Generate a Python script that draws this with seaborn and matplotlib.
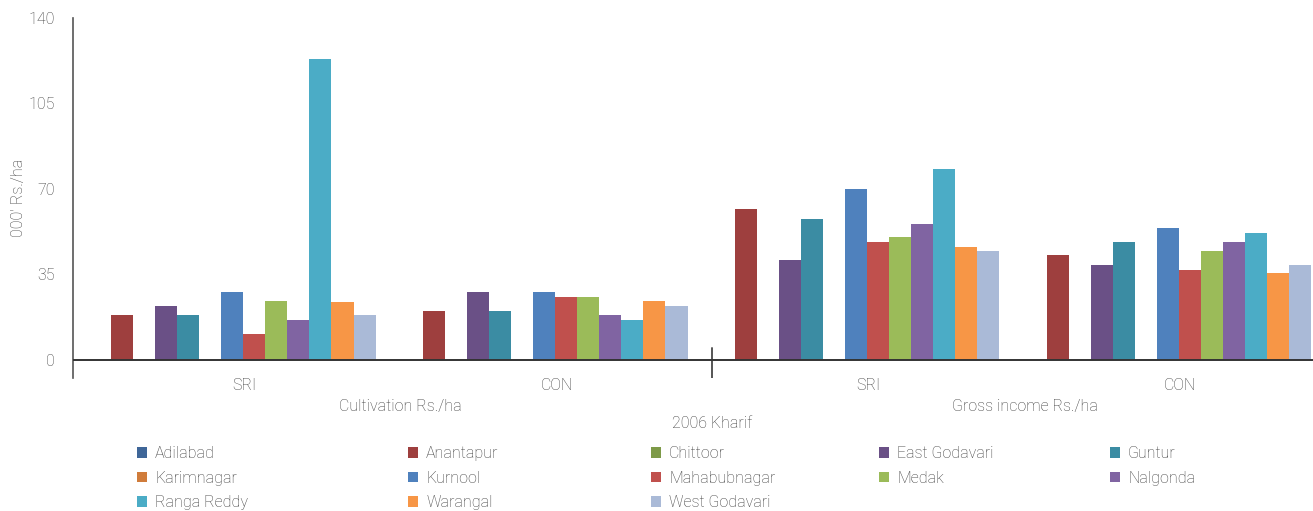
import numpy as np
import pandas as pd
import matplotlib
matplotlib.use("Agg")
import matplotlib.pyplot as plt
import seaborn as sns
from matplotlib.patches import Patch

# Données (000' Rs./ha)
districts = ["Adilabad", "Anantapur", "Chittoor", "East Godavari", "Guntur",
             "Karimnagar", "Kurnool", "Mahabubnagar", "Medak", "Nalgonda",
             "Ranga Reddy", "Warangal", "West Godavari"]
groups = ["SRI_cult", "CON_cult", "SRI_gross", "CON_gross"]
group_labels = ["SRI", "CON", "SRI", "CON"]
section_labels = ["Cultivation Rs./ha", "Gross income Rs./ha"]

nan = np.nan
cult_sri = [nan, 18.4, nan, 22.1, 18.4, nan, 27.8, 10.6, 24.2, 16.4, 123.2, 23.7, 18.4]
cult_con = [nan, 20.1, nan, 27.8, 20.1, nan, 27.8, 25.8, 25.8, 18.4, 16.4, 24.2, 22.1]
gross_sri = [nan, 61.6, nan, 41.1, 57.5, nan, 69.8, 48.3, 50.4, 55.5, 78.0, 46.3, 44.6]
gross_con = [nan, 42.8, nan, 38.7, 48.3, nan, 54.0, 37.0, 44.6, 48.3, 52.0, 35.4, 38.7]

colors = ["#3F6698", "#9E3F3E", "#7D9A48", "#6A5086", "#3B8CA3",
          "#D07C3B", "#4F81BD", "#C0504D", "#9BBB59", "#8064A2",
          "#4BACC6", "#F79646", "#AABAD7"]

df = pd.DataFrame({
    "group": np.repeat(groups, len(districts)),
    "district": districts * len(groups),
    "value": cult_sri + cult_con + gross_sri + gross_con,
})

text_col = "#3c3c3c"
axis_col = "#555555"
fs = 11.5

sns.set_style("white")
plt.rcParams["font.family"] = ["Roboto", "DejaVu Sans"]
plt.rcParams["font.weight"] = "light"
plt.rcParams["axes.labelweight"] = "light"

fig = plt.figure(figsize=(13.13, 5.11), dpi=100)
ax = fig.add_axes([73 / 1313, 1 - 378 / 511, 1240 / 1313, 360 / 511])

sns.barplot(data=df, x="group", y="value", hue="district", order=groups,
            hue_order=districts, palette=colors, saturation=1, width=0.92,
            gap=0, errorbar=None, legend=False, linewidth=0, ax=ax)

ax.set_xlim(-0.51, 3.465)
ax.set_ylim(-7.4, 140)
ax.set_yticks([0, 35, 70, 105, 140])
ax.set_xticks([k + 0.04 for k in range(4)])
ax.set_xticklabels(group_labels)
ax.tick_params(axis="x", length=0, pad=0, labelsize=fs, labelcolor=text_col)
ax.tick_params(axis="y", length=8, width=1, color=axis_col, pad=5,
               labelsize=fs, labelcolor=text_col)
ax.set_xlabel("")
ax.set_ylabel("000' Rs./ha", fontsize=fs, color=text_col, labelpad=2)

for side in ["top", "right", "bottom"]:
    ax.spines[side].set_visible(False)
ax.spines["left"].set_color(axis_col)
ax.spines["left"].set_linewidth(1.2)

# ligne du zéro et séparateur entre les deux sections
ax.axhline(0, color="#333333", lw=1.4, zorder=5)
ax.axvline(1.54, ymin=0, ymax=0.083, color=axis_col, lw=1.4)

xf = ax.get_xaxis_transform()
ax.text(0.54, -0.08, section_labels[0], transform=xf, ha="center", va="center",
        fontsize=fs, color=text_col)
ax.text(2.54, -0.08, section_labels[1], transform=xf, ha="center", va="center",
        fontsize=fs, color=text_col)
ax.text(1.54, -0.125, "2006 Kharif", transform=xf, ha="center", va="center",
        fontsize=fs, color=text_col)

# légende en 5 colonnes, remplie ligne par ligne
handles = [Patch(facecolor=c, edgecolor="none") for c in colors]
col_x = [137, 408, 651, 879, 1110]
for j, x in enumerate(col_x):
    idx = list(range(j, len(districts), 5))
    leg = fig.legend([handles[i] for i in idx], [districts[i] for i in idx],
                     loc="upper left", bbox_to_anchor=(x / 1313, 1 - 446 / 511),
                     frameon=False, fontsize=fs, handlelength=0.63,
                     handleheight=0.63, handletextpad=0.5, labelspacing=0.6,
                     borderpad=0, borderaxespad=0)
    for t in leg.get_texts():
        t.set_color(text_col)

fig.savefig("out.png", dpi=100)
